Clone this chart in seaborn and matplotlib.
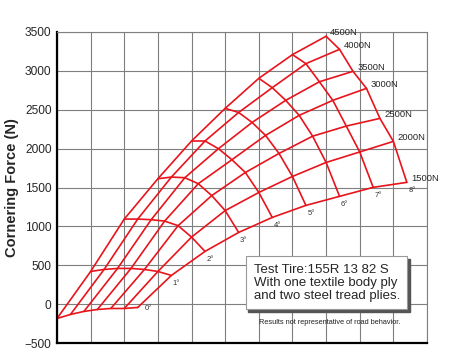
import numpy as np
import pandas as pd
import matplotlib
matplotlib.use('Agg')
import matplotlib.pyplot as plt
import seaborn as sns
from matplotlib.patches import Rectangle

# -------- data --------
loads = [1500, 2000, 2500, 3000, 3500, 4000, 4500]      # N
angles = [0, 1, 2, 3, 4, 5, 6, 7, 8]                     # slip angle, deg
f_1500 = [-43, 369, 678, 922, 1115, 1270, 1386, 1502, 1566]
f_2000 = [-56, 420, 862, 1203, 1436, 1642, 1822, 1957, 2093]
f_2500 = [-56, 446, 1009, 1396, 1693, 1938, 2160, 2290, 2389]
f_3000 = [-69, 459, 1068, 1549, 1857, 2170, 2428, 2621, 2775]
f_3500 = [-94, 459, 1086, 1626, 1999, 2337, 2621, 2860, 2994]
f_4000 = [-133, 446, 1094, 1634, 2098, 2465, 2784, 3093, 3277]
f_4500 = [-185, 420, 1094, 1613, 2098, 2518, 2904, 3209, 3445]
forces = [f_1500, f_2000, f_2500, f_3000, f_3500, f_4000, f_4500]

# carpet shift: each load step moves the point 0.4 grid units left
shift_per_500N = 0.4

rows = []
for load, fl in zip(loads, forces):
    for a, f in zip(angles, fl):
        rows.append({'load': load, 'angle': a, 'F': f,
                     'x': a + shift_per_500N * (max(loads) - load) / 500})
df = pd.DataFrame(rows)

# -------- plot --------
sns.set_style('white')
plt.rcParams['font.family'] = ['Liberation Sans', 'DejaVu Sans']
red = '#e8141c'

fig = plt.figure(figsize=(4.5, 3.61), dpi=100)
ax = fig.add_axes([57/450, 1-343/361, 370/450, 311/361])

# constant load lines
sns.lineplot(data=df.sort_values(['load', 'angle']), x='x', y='F', units='load',
             estimator=None, sort=False, color=red, lw=1.2, ax=ax, legend=False)
# constant slip angle lines
sns.lineplot(data=df.sort_values(['angle', 'load']), x='x', y='F', units='angle',
             estimator=None, sort=False, color=red, lw=1.2, ax=ax, legend=False)

ax.set_xlim(0, 11)
ax.set_ylim(-500, 3500)
ax.set_xticks(range(0, 12))
ax.set_yticks(range(-500, 3501, 500))
ax.set_xticklabels([])
ax.grid(True, color='#7f7f7f', lw=0.8)
ax.set_axisbelow(True)
ax.tick_params(length=0, labelsize=8.6, pad=4)
for s in ['top', 'right']:
    ax.spines[s].set_color('#7f7f7f')
    ax.spines[s].set_linewidth(0.8)
for s in ['left', 'bottom']:
    ax.spines[s].set_color('black')
    ax.spines[s].set_linewidth(1.6)
ax.set_xlabel('')
ax.set_ylabel('Cornering Force (N)', fontsize=10.5, fontweight='bold')
ax.yaxis.set_label_coords(-0.102, 0.5)

# load labels at the 8 deg end
end = df[df['angle'] == max(angles)]
for _, r in end.iterrows():
    ax.annotate(f"{int(r['load'])}N", (r['x'], r['F']), xytext=(3, 3),
                textcoords='offset points', fontsize=6.8, va='center', ha='left')
# slip angle labels along the 1500N line
low = df[df['load'] == min(loads)]
for _, r in low.iterrows():
    dx, dy = (5, -1) if r['angle'] == 0 else (1, -6)
    ax.annotate(f"{int(r['angle'])}°", (r['x'], r['F']), xytext=(dx, dy),
                textcoords='offset points', fontsize=5.5, va='center', ha='left',
                color='#333333')

# info box with shadow
fig.patches.append(Rectangle((248.5/450, 1-312/361), 161/450, 53.3/361,
                             transform=fig.transFigure, color='#555555', zorder=5))
fig.patches.append(Rectangle((245.7/450, 1-309.3/361), 161/450, 53.3/361,
                             transform=fig.transFigure, facecolor='white',
                             edgecolor='#999999', lw=0.8, zorder=6))
fig.text(254/450, 1-283/361,
         'Test Tire:155R 13 82 S\nWith one textile body ply\nand two steel tread plies.',
         fontsize=9.5, va='center', ha='left', linespacing=1.1, zorder=7)
fig.text(330/450, 1-322/361, 'Results not representative of road behavior.',
         fontsize=5.3, ha='center', va='center', color='#222222')

fig.savefig('out.png', dpi=100)
